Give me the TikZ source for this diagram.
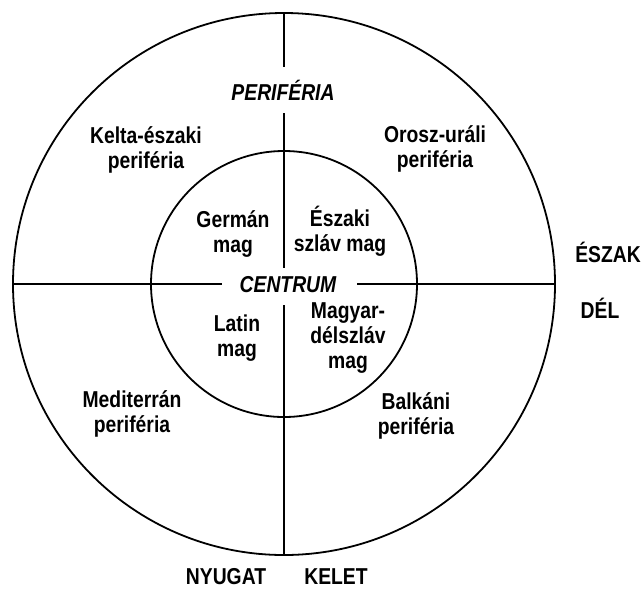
\documentclass[tikz,border=0pt]{standalone}
\usepackage{fontspec}
\setmainfont{Liberation Sans}[FakeStretch=0.84]
\begin{document}
\begin{tikzpicture}[x=1pt,y=-1pt,
  ln/.style={line width=1.8pt, black},
  lbl/.style={font=\fontsize{23}{25}\selectfont\bfseries, align=center, inner sep=0pt},
  ilbl/.style={font=\fontsize{23}{25}\selectfont\bfseries\itshape, align=center, inner sep=0pt},
  ring/.style={circle, draw, line width=1.8pt, inner sep=0pt, outer sep=0pt}]
\useasboundingbox (0,0) rectangle (644,590);
\fill[white] (0,0) rectangle (644,590);
\node[ring, minimum size=542pt] (outer) at (284,284) {};
\node[ring, minimum size=266pt] (inner) at (284,284) {};
% line end points
\coordinate (v1) at (284,67);
\coordinate (v2) at (284,113);
\coordinate (v3) at (284,268);
\coordinate (v4) at (284,305);
\coordinate (h1) at (222,284);
\coordinate (h2) at (357,284);
\draw[ln] (outer.north) -- (v1);
\draw[ln] (v2) -- (v3);
\draw[ln] (v4) -- (outer.south);
\draw[ln] (outer.west) -- (h1);
\draw[ln] (h2) -- (outer.east);
% labels
\node[ilbl] (perif) at (283,90) {PERIFÉRIA};
\node[ilbl] (centr) at (288,285) {CENTRUM};
\node[lbl] (kelta) at (146,150) {Kelta-északi\\periféria};
\node[lbl] (orosz) at (435,149) {Orosz-uráli\\periféria};
\node[lbl] (german) at (233,234) {Germán\\mag};
\node[lbl] (eszaki) at (340,231) {Északi\\szláv mag};
\node[lbl] (latin) at (237,338) {Latin\\mag};
\node[lbl] (magyar) at (348,338) {Magyar-\\délszláv\\mag};
\node[lbl] (medit) at (132,414) {Mediterrán\\periféria};
\node[lbl] (balkan) at (416,416) {Balkáni\\periféria};
\node[lbl] (north) at (608,252) {ÉSZAK};
\node[lbl] (south) at (600,308) {DÉL};
\node[lbl] (west) at (226,577) {NYUGAT};
\node[lbl] (east) at (336,577) {KELET};
\end{tikzpicture}
\end{document}
